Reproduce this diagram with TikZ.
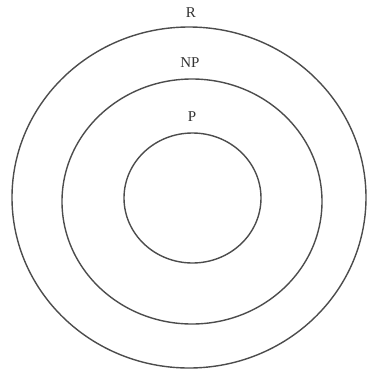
\documentclass[tikz,border=0pt]{standalone}
\usepackage{fontspec}
\setmainfont{Liberation Serif}
\usepackage{xcolor}
\usepackage{tikz}

\begin{document}
\begin{tikzpicture}[x=1pt,y=-1pt,font=\fontsize{15}{18}\selectfont]
    \useasboundingbox (0,0) rectangle (367,373);
    \tikzset{ring/.style={draw=black!70,line width=1.4pt}}

    % outer to inner: centre, radii, label position
    \draw[ring] (189,197.5) ellipse [x radius=177,y radius=170.5];
    \draw[ring] (192,201.5) ellipse [x radius=130,y radius=122.5];
    \draw[ring] (192.5,198) ellipse [x radius=68.5,y radius=65];

    \node[text=black!80] (labR) at (191,13) {R};
    \node[text=black!80] (labNP) at (190,63) {NP};
    \node[text=black!80] (labP) at (192,117) {P};
\end{tikzpicture}
\end{document}
